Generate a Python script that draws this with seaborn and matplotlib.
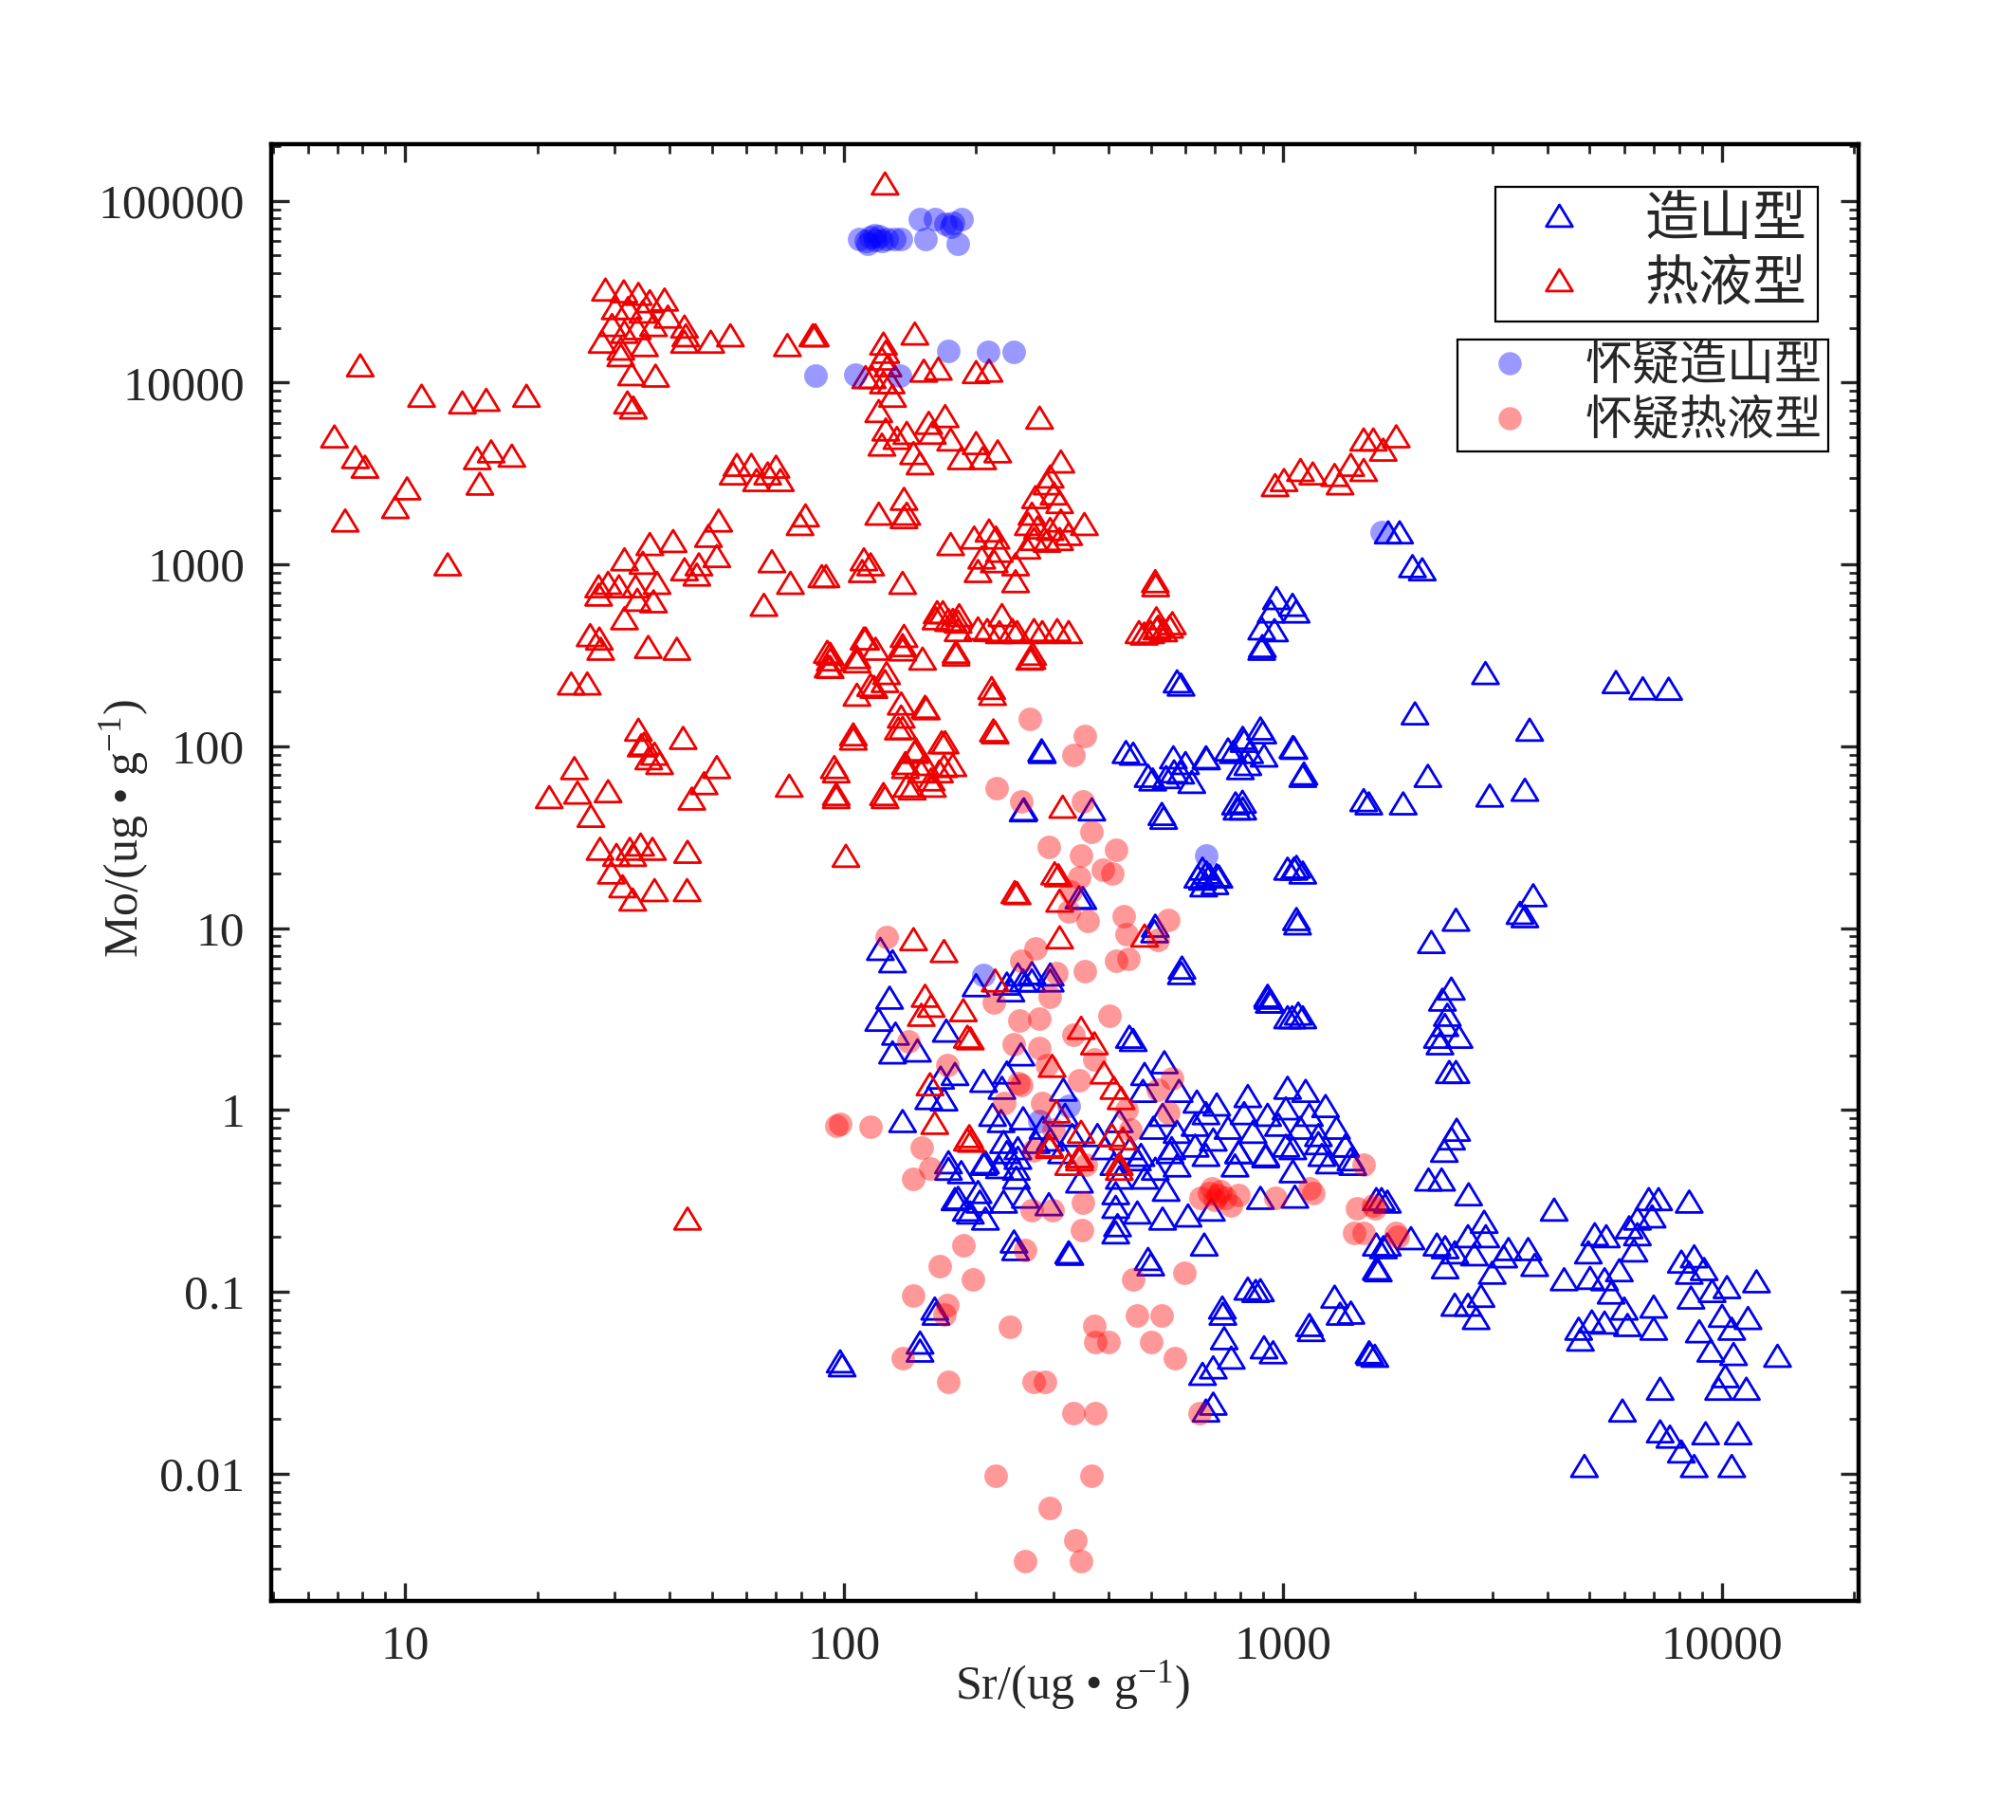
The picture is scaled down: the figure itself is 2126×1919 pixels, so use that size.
import matplotlib
matplotlib.use("Agg")
import matplotlib.pyplot as plt
from matplotlib.lines import Line2D
from matplotlib.path import Path
from matplotlib.ticker import LogLocator, FuncFormatter, NullFormatter
import seaborn as sns
import pandas as pd

# (Sr, Mo) pairs in ug/g
orogenic = [
    (1738, 1485), (1845, 1485), (1974, 968), (2078, 930),
    (967, 646), (940, 545), (1052, 593), (1072, 545), (895, 440), (957, 430), (895, 340), (898, 352),
    (2895, 250), (5740, 223), (6610, 206), (7570, 205), (3650, 122), (2000, 150), (2140, 68),
    (1570, 48), (1880, 48), (2960, 53), (3560, 57), (2480, 11), (2420, 4.6), (2310, 4.0),
    (2370, 3.3), (2250, 2.5), (2280, 2.3), (2340, 2.9), (2480, 1.6), (2180, 8.3), (3470, 12),
    (3560, 11.5), (3720, 15), (2520, 2.5),
    (1060, 97), (1110, 68), (1060, 21), (1110, 20), (1080, 10.5), (1050, 3.2), (1110, 3.2),
    (940, 3.9), (925, 4.1),
    (586, 216), (505, 65), (535, 40), (456, 90), (565, 72), (600, 80), (620, 63), (670, 85),
    (750, 95), (810, 110), (900, 118), (800, 75), (840, 92), (810, 45), (780, 48), (670, 20),
    (660, 17), (700, 17.5), (640, 19), (715, 19), (510, 9.5), (587, 5.6), (456, 2.4),
    (257, 44.5), (367, 44.5), (283, 92), (350, 14.5),
    (282, 94), (439, 92), (574, 225), (493, 68), (542, 67), (563, 86), (585, 71), (668, 86),
    (771, 92), (816, 106), (889, 124), (832, 79), (906, 88), (1054, 98), (1117, 70), (1528, 50),
    (256, 44), (530, 42), (786, 45), (809, 49), (656, 21), (681, 19.3), (707, 19.3),
    (656, 18.5), (1074, 21.5), (1025, 21), (343, 14.6), (1074, 11.1), (512, 10.2), (589, 6),
    (923, 4.2), (931, 3.9), (1084, 3.35), (1025, 3.2), (121, 7.6), (129, 6.5), (127, 4.1),
    (120, 3.1), (131, 2.6), (129, 2.05), (147, 2.1), (171, 2.7), (200, 4.8), (235, 4.9),
    (249, 5.5), (268, 5.6), (295, 5.5), (268, 5.1), (240, 4.5), (295, 5.1), (256, 5.1),
    (447, 2.5), (253, 2.0), (235, 1.59), (179, 1.56), (166, 1.49), (208, 1.43), (229, 1.31),
    (169, 1.13), (156, 1.15), (316, 1.28), (136, 0.86),
    (484, 1.56), (537, 1.81), (480, 1.26), (580, 1.26), (637, 1.10), (707, 1.06), (832, 1.18),
    (1025, 1.31), (1127, 1.26), (1251, 1.04), (532, 0.93), (668, 0.95), (816, 0.95), (923, 0.93),
    (1016, 1.01), (1149, 0.93), (1325, 0.79), (1389, 0.63), (507, 0.79), (574, 0.75), (631, 0.82),
    (750, 0.79), (855, 0.75), (977, 0.82), (1096, 0.79), (1205, 0.72), (475, 0.56), (558, 0.61),
    (668, 0.56), (793, 0.58), (914, 0.56), (1054, 0.61), (1227, 0.56), (1429, 0.53),
    (218, 0.93), (228, 0.86), (256, 0.89), (284, 0.79), (319, 0.93), (331, 0.72), (231, 0.66),
    (249, 0.61), (274, 0.66), (313, 0.58), (378, 0.72), (393, 0.61), (424, 0.86), (449, 0.61),
    (210, 0.51), (173, 0.51), (247, 0.47),
    (173, 0.47), (208, 0.50), (235, 0.58), (249, 0.54), (226, 0.48), (247, 0.42), (182, 0.325),
    (202, 0.35), (204, 0.31), (194, 0.27), (210, 0.25), (231, 0.31), (259, 0.33), (293, 0.30),
    (244, 0.187), (325, 0.163), (344, 0.40),
    (295, 0.68), (344, 0.55), (412, 0.50), (424, 0.42), (416, 0.345), (416, 0.29), (420, 0.23),
    (416, 0.21), (466, 0.53), (484, 0.42), (466, 0.27), (532, 0.25), (542, 0.36), (574, 0.49),
    (608, 0.26), (662, 0.18), (687, 0.28), (512, 0.47), (553, 0.58), (631, 0.63), (694, 0.68),
    (778, 0.49), (793, 0.58), (914, 0.55), (889, 0.325), (1016, 0.63), (1054, 0.455),
    (1065, 0.33), (1205, 0.65), (1276, 0.51), (1389, 0.63), (1443, 0.50), (1633, 0.32),
    (1633, 0.18), (1633, 0.133), (493, 0.15),
    (832, 0.103), (889, 0.101), (728, 0.081), (1149, 0.065), (1312, 0.093), (1429, 0.076),
    (735, 0.055), (906, 0.049), (763, 0.043), (694, 0.038), (656, 0.035), (1572, 0.046),
    (668, 0.022), (694, 0.024), (161, 0.080), (149, 0.052), (98, 0.041),
    (2394, 1.60), (2489, 0.77), (2423, 0.69), (2333, 0.59), (2147, 0.41), (2300, 0.41),
    (2650, 0.34), (1678, 0.32), (1958, 0.195), (1695, 0.174), (1637, 0.132), (1581, 0.045),
    (2244, 0.18), (2343, 0.174), (2343, 0.135), (2465, 0.163), (2641, 0.20), (2732, 0.159),
    (2875, 0.24), (2899, 0.20), (2999, 0.126), (3185, 0.155), (3267, 0.17), (3622, 0.17),
    (3748, 0.139), (2828, 0.094), (2465, 0.084), (2641, 0.084), (2757, 0.071), (4151, 0.28),
    (4374, 0.116), (5012, 0.118), (4967, 0.163), (5137, 0.205), (5457, 0.20), (5408, 0.116),
    (5844, 0.13), (5598, 0.098), (6152, 0.224), (6424, 0.25), (6820, 0.32), (7180, 0.32),
    (6941, 0.257), (6424, 0.205), (6310, 0.167), (8432, 0.31), (8090, 0.145), (8655, 0.155),
    (9120, 0.132), (8432, 0.126), (10280, 0.105), (9510, 0.10), (12000, 0.113), (8510, 0.092),
    (10020, 0.073), (11480, 0.071), (10540, 0.062), (8890, 0.060), (9440, 0.047),
    (10640, 0.045), (13400, 0.044), (10190, 0.034), (9840, 0.029), (11380, 0.029),
    (7240, 0.029), (5940, 0.022), (7240, 0.0169), (7620, 0.0158), (8090, 0.0131),
    (8655, 0.0109), (9190, 0.0165), (10900, 0.0165), (10540, 0.0109), (4865, 0.0109),
    (4721, 0.062), (4764, 0.054), (5058, 0.068), (5408, 0.067), (5998, 0.080), (6100, 0.065),
    (6998, 0.082), (6998, 0.062),
    (1160, 0.061), (1350, 0.075), (1620, 0.044), (1730, 0.18), (1650, 0.13), (1730, 0.31),
    (867, 0.1), (950, 0.046), (730, 0.075), (99, 0.039), (149, 0.047), (162, 0.075),
    (327, 0.16), (246, 0.17), (500, 0.14), (179, 0.32), (190, 0.28), (185, 0.45),
]

hydrothermal = [
    (7.9, 12300), (6.9, 5000), (7.7, 3850), (8.1, 3410), (7.3, 1725), (10.1, 2590), (9.5, 2045),
    (10.9, 8370), (13.5, 7690), (15.3, 7950), (18.9, 8370), (14.6, 3800), (15.7, 4140),
    (17.5, 3920), (14.8, 2750), (12.5, 990),
    (28.6, 32100), (31.5, 31400), (34, 30400), (36.1, 27700), (39, 28300), (30.1, 25400),
    (32.2, 25400), (34.8, 24300), (39.7, 22800), (43.3, 20100), (43.6, 18000), (29.6, 20500),
    (31.6, 18800), (33.8, 19700), (36.8, 20500), (28.1, 16600), (31, 15200), (35.1, 15900),
    (43.3, 16600), (49.7, 16600), (55.1, 18000), (74.3, 15900), (84.9, 18000), (31, 14000),
    (32.8, 11000), (37.2, 10800), (32.1, 7690), (33.1, 7210),
    (57, 3490), (61.5, 3490), (70, 3410), (55.9, 3130), (67, 3130), (63.2, 2880), (71.6, 2880),
    (81.7, 1840), (79.4, 1650), (51.8, 1725), (49.1, 1420), (51.3, 1100), (40.8, 1330),
    (36.1, 1280), (31.6, 1055), (34.8, 1010), (43.3, 930), (46.7, 990), (46.2, 870),
    (37.5, 783), (33.5, 750), (30.7, 750), (27.6, 750), (27.6, 675), (29, 783), (36.8, 620),
    (33.8, 632), (31.6, 500), (68.5, 1030), (75.5, 783), (65.7, 593), (89, 853), (26.4, 404),
    (27.7, 387), (27.9, 340), (35.8, 348), (41.6, 340), (91.6, 327),
    (23.9, 219), (26, 219), (24.3, 75), (21.3, 52), (24.7, 55), (26.5, 41), (29, 56),
    (27.8, 27), (30.3, 25), (29.5, 20), (32.5, 27), (33, 25), (34.4, 28.5), (36.6, 27),
    (31.3, 16.8), (33, 14.2), (37, 16), (43.9, 16), (44, 26), (34, 122), (34.5, 100),
    (35.9, 85), (37, 90), (35, 102), (43, 110), (38, 80), (45, 51), (48, 62), (51.3, 76),
    (44, 0.25), (75, 60), (96, 72), (96, 52), (101, 24.7), (105, 115), (107, 290), (93, 270),
    (107, 190), (117, 210), (124, 226),
    (111, 387), (118, 340), (137, 400), (125, 250), (151, 300), (135, 170), (154, 160),
    (136, 125), (146, 95), (138, 80), (150, 72), (143, 58), (170, 104), (165, 72), (159, 60),
    (177, 78), (124, 52), (218, 192), (221, 118), (265, 300), (248, 420), (283, 420),
    (325, 420), (226, 420), (183, 520), (168, 540), (177, 490), (163, 540), (202, 440),
    (248, 15.4), (302, 19.8), (310, 14), (315, 46), (513, 760), (500, 420), (520, 450),
    (535, 430), (470, 420), (560, 470), (515, 500),
    (124, 123000), (86, 18000), (145, 18400), (123, 16200), (124.5, 14600), (122, 13400),
    (126, 12300), (112, 10600), (116, 10600), (123, 9930), (128, 9930), (152, 11500),
    (164, 11800), (200, 11300), (214, 11500), (129, 8370), (120, 6900), (279, 6340),
    (124.5, 5460), (132, 4910), (139, 5230), (156, 5940), (170, 6470), (159, 5240), (175, 4810),
    (122, 4510), (144, 4050), (149, 3560), (185, 3800), (200, 4600), (207, 3800), (224, 4140),
    (312, 3640), (290, 2760), (295, 3010), (273, 2320), (301, 2430), (310, 2180), (268, 1880),
    (263, 1650), (276, 1580), (295, 1550), (312, 1725), (353, 1650), (271, 1365), (290, 1335),
    (310, 1365), (325, 1455), (261, 1225), (137, 2270), (139, 1880), (120, 1880), (137, 1800),
    (175, 1280), (198, 1390), (214, 1520), (222, 1390), (226, 1175), (206, 1080), (220, 1030),
    (202, 910), (246, 990), (246, 800), (111, 1055), (115, 990), (110, 910), (91, 853),
    (136, 783), (512, 800), (162, 500), (173, 490), (182, 479), (182, 431), (212, 431),
    (229, 521), (242, 431), (271, 431), (306, 431), (112, 387), (136, 356), (180, 327),
    (269, 319), (93, 319), (107, 306), (483, 412), (516, 440), (552, 450),
    (960, 2700), (1006, 2880), (1097, 3270), (1170, 3130), (1312, 3070), (1350, 2760),
    (1428, 3490), (1528, 4810), (1607, 4810), (1693, 4230), (1813, 5010), (1528, 3270),
    (93, 297), (92, 272), (136, 337), (180, 316), (268, 303), (115, 215), (217, 207),
    (153, 163), (135, 144), (133, 124), (105, 109), (219, 121), (167, 104), (145, 92),
    (153, 79), (169, 77), (138, 76), (158, 65), (139, 60), (95, 76), (96, 54), (123, 54),
    (308, 19.3), (245, 15.6), (484, 9), (310, 8.8), (144, 8.6), (169, 7.4), (221, 5.1),
    (153, 4.2), (158, 3.7), (150, 3.3), (187, 3.5), (191, 2.5), (194, 2.45), (347, 2.8),
    (372, 2.3), (298, 1.73), (157, 1.37), (391, 1.59), (412, 1.31), (428, 1.15), (161, 0.84),
    (193, 0.71), (305, 0.97), (347, 0.75), (408, 0.72), (432, 0.69), (294, 0.62), (344, 0.55),
    (424, 0.50), (191, 0.68), (294, 0.63), (344, 0.53), (325, 0.50), (424, 0.47), (195, 0.67),
]

suspect_orogenic = [
    (108, 62000), (112, 60000), (115, 63000), (118, 61000), (120, 64000), (122, 60000),
    (125, 62000), (117, 65000), (113, 58000), (130, 62000), (135, 62000), (153, 62000),
    (149, 79000), (161, 79000), (170, 75000), (175, 72000), (177, 76000), (185, 79000),
    (182, 58000), (86, 11000), (106, 11100), (134, 10900), (173, 14900), (213, 14700),
    (243, 14700), (1675, 1510), (670, 25), (208, 5.5), (325, 1.06), (279, 0.87),
]

suspect_hydrothermal = [
    (265, 142), (354, 114), (333, 90), (223, 59), (253, 50), (351, 50), (367, 34), (293, 28),
    (346, 25), (416, 27), (389, 21), (409, 20), (344, 19), (328, 16), (325, 12.3), (359, 11),
    (434, 11.7), (547, 11.1), (440, 9.3), (518, 8.6), (125, 8.95), (273, 7.7), (253, 6.6),
    (304, 5.7), (354, 5.8), (416, 6.6), (445, 6.8), (219, 3.9), (294, 4.2), (251, 3.1),
    (279, 3.2), (402, 3.3), (140, 2.4), (334, 2.6), (243, 2.3), (279, 2.2), (371, 1.9),
    (172, 1.77), (290, 1.77), (254, 1.37), (344, 1.46), (558, 1.49), (283, 1.1), (449, 0.785),
    (96, 0.82), (98, 0.84), (115, 0.81), (150, 0.62),
    (157, 0.48), (144, 0.42), (268, 0.28), (298, 0.28), (351, 0.31), (349, 0.22), (187, 0.18),
    (258, 0.17), (165, 0.139), (197, 0.117), (144, 0.096), (172, 0.085), (169, 0.075),
    (239, 0.064), (371, 0.065), (374, 0.053), (400, 0.053), (457, 0.117), (466, 0.074),
    (529, 0.074), (502, 0.053), (568, 0.043), (597, 0.127), (136, 0.043), (173, 0.032),
    (270, 0.032), (287, 0.032), (334, 0.0215), (373, 0.0215), (647, 0.0215), (222, 0.0097),
    (367, 0.0097), (294, 0.0065), (336, 0.0043), (258, 0.0033), (347, 0.0033),
    (650, 0.33), (680, 0.35), (700, 0.32), (720, 0.36), (740, 0.33), (760, 0.30), (690, 0.37),
    (710, 0.34), (792, 0.34), (960, 0.33), (1148, 0.37), (1473, 0.29), (1456, 0.21),
    (1528, 0.50), (1618, 0.29), (1528, 0.21), (1607, 0.30), (1808, 0.21), (1830, 0.20),
    (1175, 0.35),
    (547, 0.97), (520, 1.3), (440, 1.0), (232, 1.1), (250, 1.4), (300, 0.78), (270, 0.6),
    (355, 0.5),
]

legend_main = ["造山型", "热液型"]
legend_suspect = ["怀疑造山型", "怀疑热液型"]


def to_frame(points):
    return pd.DataFrame(points, columns=["Sr", "Mo"])


# slightly flattened open triangle, like the original marker
tri = Path(
    [(-1.0, -0.75), (1.0, -0.75), (0.0, 0.9), (-1.0, -0.75)],
    [Path.MOVETO, Path.LINETO, Path.LINETO, Path.CLOSEPOLY],
)

sns.set_style("ticks")
plt.rcParams["font.family"] = ["Liberation Serif", "Noto Sans CJK SC", "DejaVu Sans"]
plt.rcParams["mathtext.fontset"] = "custom"
plt.rcParams["mathtext.rm"] = "Liberation Serif"
plt.rcParams["mathtext.it"] = "Liberation Serif:italic"

fig = plt.figure(figsize=(10.63, 9.595), dpi=200)
ax = fig.add_axes([0.1345, 0.1204, 0.7874, 0.8004])

sns.scatterplot(data=to_frame(orogenic), x="Sr", y="Mo", marker=tri, s=100,
                color="#0000ee", facecolor="none", edgecolor="#0000ee", linewidth=1.0, ax=ax)
sns.scatterplot(data=to_frame(hydrothermal), x="Sr", y="Mo", marker=tri, s=100,
                color="#ee0000", facecolor="none", edgecolor="#ee0000", linewidth=1.0, ax=ax)
sns.scatterplot(data=to_frame(suspect_orogenic), x="Sr", y="Mo", marker="o", s=80,
                color="#0000ff", alpha=0.4, linewidth=0, ax=ax)
sns.scatterplot(data=to_frame(suspect_hydrothermal), x="Sr", y="Mo", marker="o", s=80,
                color="#ff0000", alpha=0.4, linewidth=0, ax=ax)

ax.set_xscale("log")
ax.set_yscale("log")
ax.set_xlim(4.95, 20500)
ax.set_ylim(0.002, 205000)

plain = FuncFormatter(lambda v, pos: "%g" % v)
ax.xaxis.set_major_locator(LogLocator(base=10, numticks=20))
ax.yaxis.set_major_locator(LogLocator(base=10, numticks=20))
ax.xaxis.set_minor_locator(LogLocator(base=10, subs=range(2, 10), numticks=100))
ax.yaxis.set_minor_locator(LogLocator(base=10, subs=range(2, 10), numticks=100))
ax.xaxis.set_major_formatter(plain)
ax.yaxis.set_major_formatter(plain)
ax.xaxis.set_minor_formatter(NullFormatter())
ax.yaxis.set_minor_formatter(NullFormatter())

ax.tick_params(which="both", direction="in", top=True, right=True, labelsize=18.5)
ax.tick_params(which="major", length=7, width=1.2)
ax.tick_params(which="minor", length=3.5, width=1.0)
ax.tick_params(axis="y", pad=10)
ax.tick_params(axis="x", pad=9)
for sp in ax.spines.values():
    sp.set_linewidth(1.6)
    sp.set_color("black")

ax.set_xlabel("Sr/(ug • g$^{-1}$)", fontsize=18)
ax.set_ylabel("Mo/(ug • g$^{-1}$)", fontsize=18)
ax.xaxis.set_label_coords(0.505, -0.040)
ax.yaxis.set_label_coords(-0.076, 0.53)

h_main = [
    Line2D([], [], marker=tri, markersize=10, mfc="none", mec="#0000ee", mew=1.0, ls="none"),
    Line2D([], [], marker=tri, markersize=10, mfc="none", mec="#ee0000", mew=1.0, ls="none"),
]
h_susp = [
    Line2D([], [], marker="o", markersize=8.8, mfc="#0000ff", mec="none", alpha=0.4, ls="none"),
    Line2D([], [], marker="o", markersize=8.8, mfc="#ff0000", mec="none", alpha=0.4, ls="none"),
]

leg1 = ax.legend(h_main, legend_main, loc="upper right", bbox_to_anchor=(0.9743, 0.9707),
                 borderaxespad=0, fontsize=20.5, frameon=True, fancybox=False, framealpha=1,
                 edgecolor="black", borderpad=0.2, handlelength=1.96, handletextpad=0.61,
                 labelspacing=0.24)
leg1.get_frame().set_linewidth(0.8)
ax.add_artist(leg1)
leg2 = ax.legend(h_susp, legend_suspect, loc="upper right", bbox_to_anchor=(0.981, 0.8659),
                 borderaxespad=0, fontsize=18, frameon=True, fancybox=False, framealpha=1,
                 edgecolor="black", borderpad=0.13, handlelength=1.96, handletextpad=0.61,
                 labelspacing=0.21)
leg2.get_frame().set_linewidth(0.8)

fig.savefig("out.png", dpi=200)
